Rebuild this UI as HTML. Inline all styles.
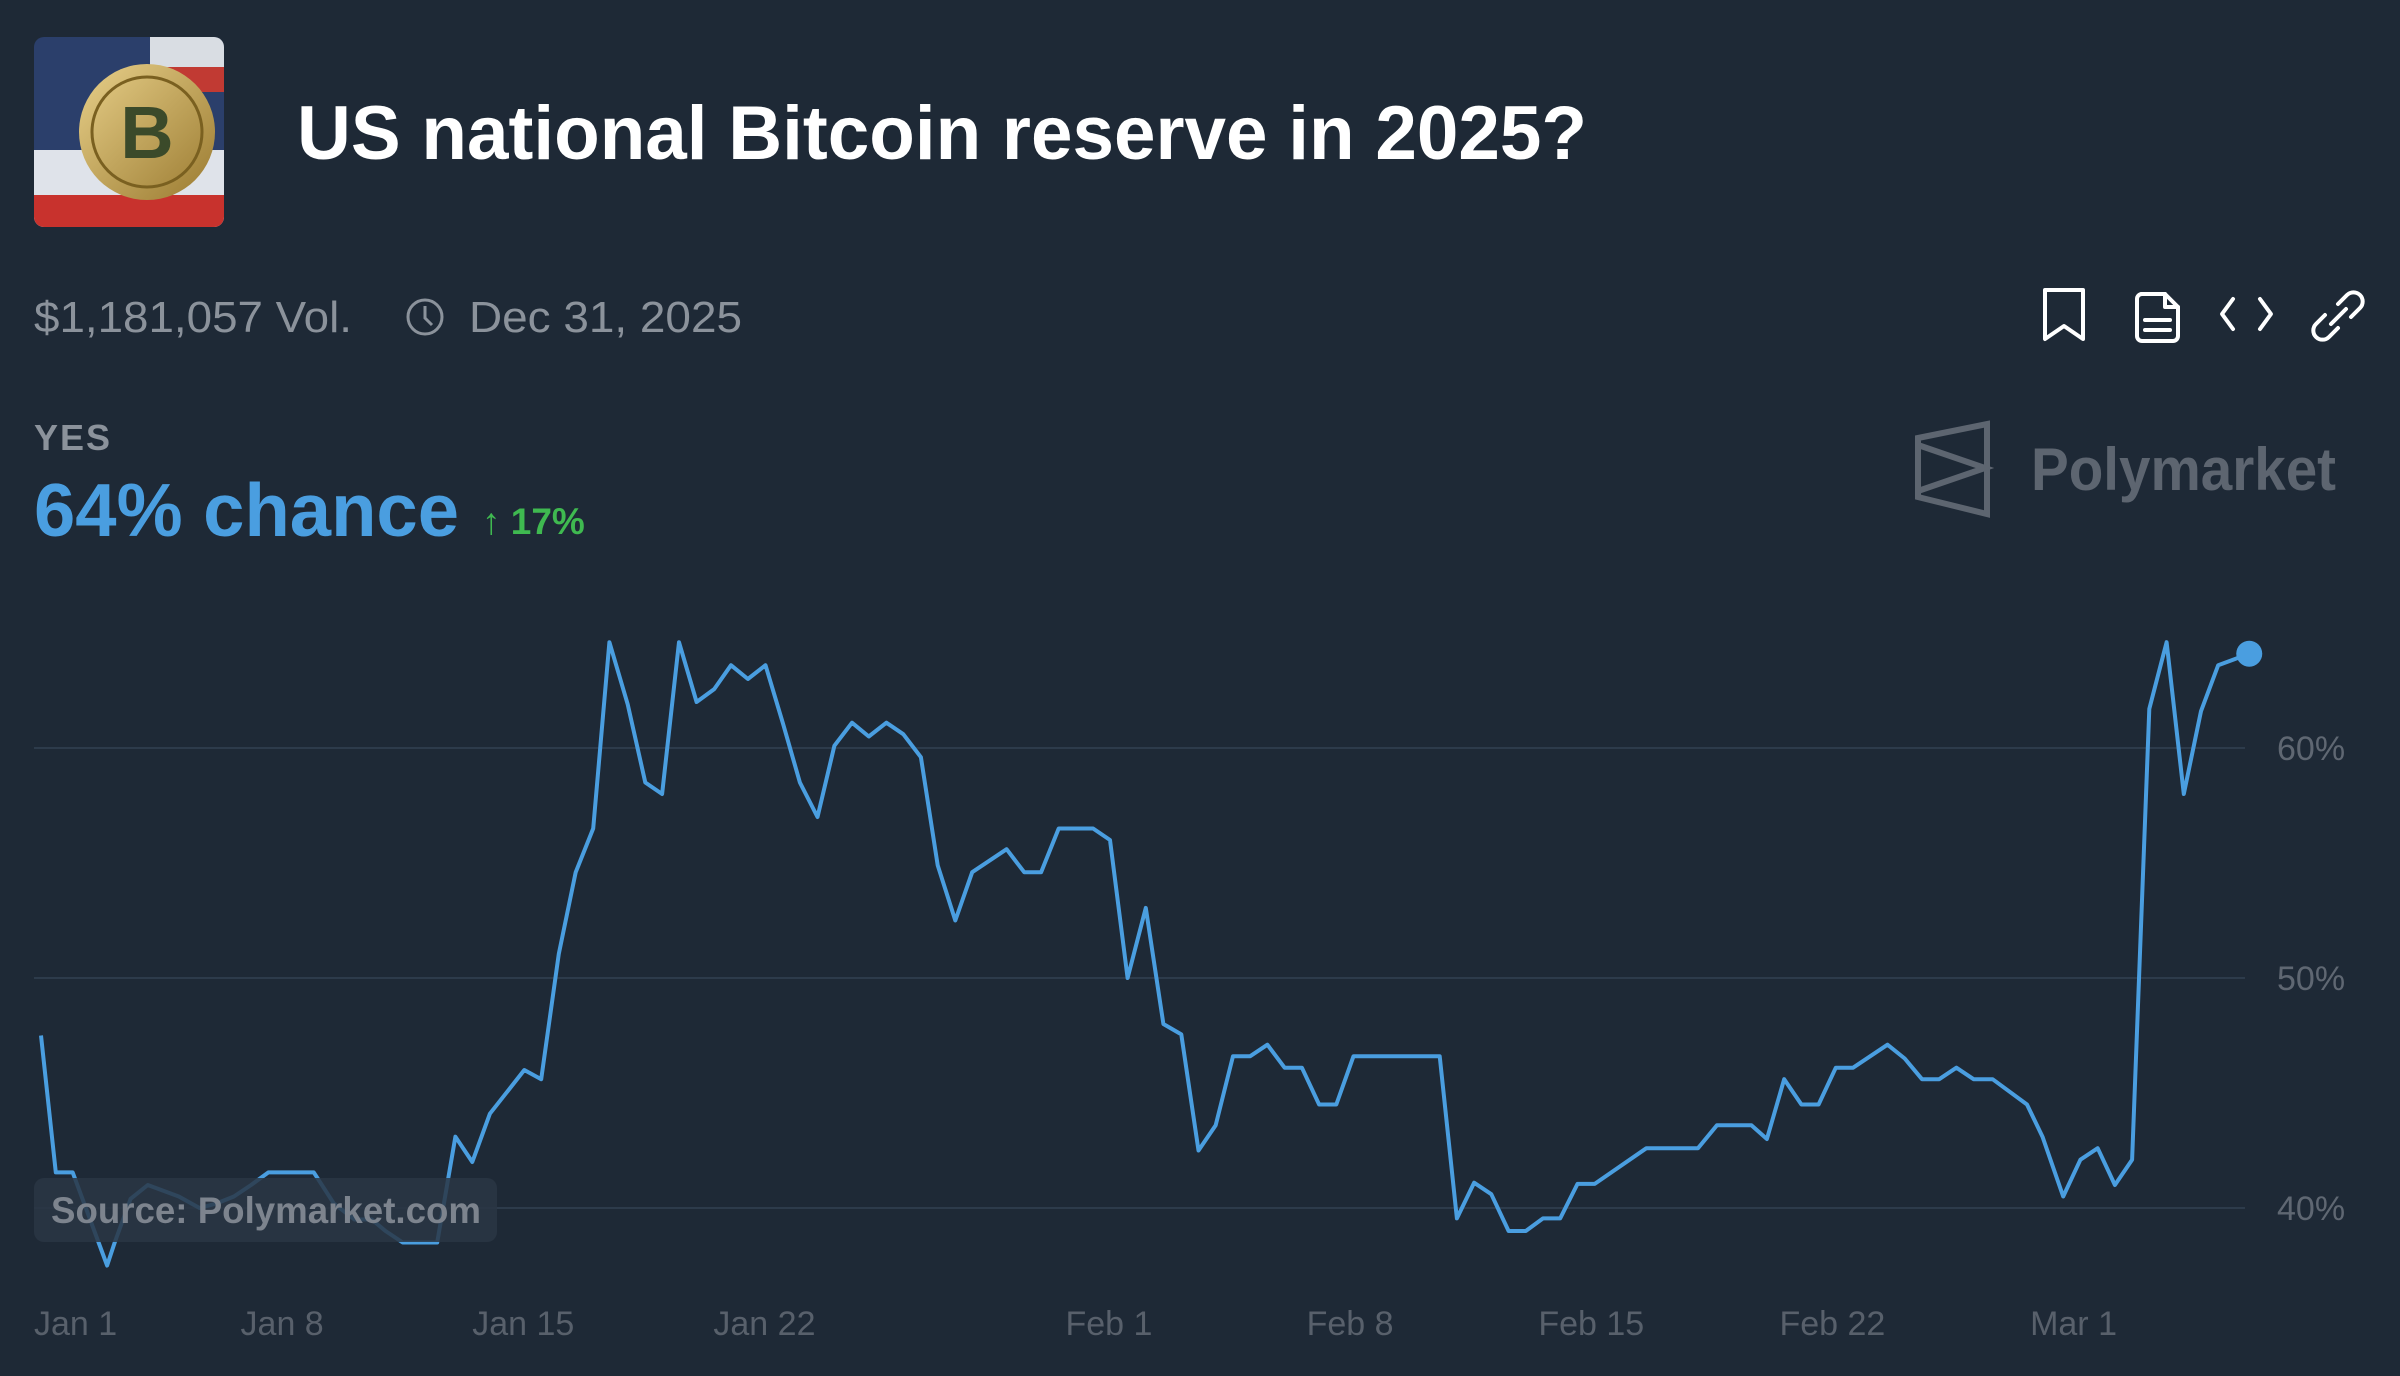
<!DOCTYPE html>
<html><head><meta charset="utf-8"><style>
html,body{margin:0;padding:0;background:#1e2936;}
svg{display:block}
text{font-family:"Liberation Sans",sans-serif}
</style></head><body>
<svg width="2400" height="1376" viewBox="0 0 2400 1376">
<rect x="0" y="0" width="2400" height="1376" fill="#1e2936"/>
<g>
<defs><clipPath id="ic"><rect x="34" y="37" width="190" height="190" rx="10"/></clipPath>
<linearGradient id="coin" x1="0" y1="0" x2="1" y2="1"><stop offset="0" stop-color="#e8d08a"/><stop offset="1" stop-color="#9a7a30"/></linearGradient></defs>
<g clip-path="url(#ic)">
<rect x="34" y="37" width="190" height="190" fill="#2b3f6b"/>
<rect x="34" y="150" width="190" height="77" fill="#dfe3ea"/>
<rect x="34" y="195" width="190" height="32" fill="#c8322d"/>
<rect x="150" y="37" width="74" height="30" fill="#d9dde3"/>
<rect x="150" y="67" width="74" height="25" fill="#c13a33"/>
<circle cx="147" cy="132" r="68" fill="url(#coin)"/>
<circle cx="147" cy="132" r="55" fill="none" stroke="#7a6020" stroke-width="3"/>
<text x="147" y="158" font-size="74" font-weight="bold" text-anchor="middle" fill="#3b4a2a">B</text>
</g></g>
<text x="297" y="159" font-size="76" font-weight="bold" fill="#ffffff" textLength="1290" lengthAdjust="spacingAndGlyphs">US national Bitcoin reserve in 2025?</text>
<text x="34" y="332" font-size="44" fill="#8b929b" textLength="318" lengthAdjust="spacingAndGlyphs">$1,181,057 Vol.</text>
<g fill="none" stroke="#8b929b" stroke-width="3">
<circle cx="425" cy="317" r="17"/><path d="M425 306 V318 L432 325"/></g>
<text x="469" y="332" font-size="44" fill="#8b929b" textLength="273" lengthAdjust="spacingAndGlyphs">Dec 31, 2025</text>
<g fill="none" stroke="#ffffff" stroke-width="4" stroke-linejoin="round" stroke-linecap="round">
<path d="M2045 290 H2083 V339 L2064 326 L2045 339 Z"/>
<g><path d="M2141 294 H2165 L2178 307 V336 a5 5 0 0 1 -5 5 H2142 a5 5 0 0 1 -5 -5 V299 a5 5 0 0 1 5 -5 Z"/><path d="M2165 294 V307 H2178 M2145 320 H2170 M2145 330 H2170"/></g>
<path d="M2233 299 L2222 314 L2233 329 M2260 299 L2271 314 L2260 329"/>
<g><path d="M2338 304 l9 -9 a9 9 0 0 1 13 13 l-9 9"/><path d="M2338 328 l-9 9 a9 9 0 0 1 -13 -13 l9 -9"/><path d="M2331 324 L2346 309"/></g>
</g>
<text x="34" y="450" font-size="36" font-weight="bold" fill="#8b929b" letter-spacing="2">YES</text>
<text x="34" y="536" font-size="75" font-weight="bold" fill="#4a9ee0" textLength="425" lengthAdjust="spacingAndGlyphs">64% chance</text>
<text x="482" y="534" font-size="37" font-weight="bold" fill="#3fb950">↑ 17%</text>
<g>
<path d="M1918 438 L1987 424 V514 L1918 497 Z M1918 445 L1985 468 L1918 491" fill="none" stroke="#5d6570" stroke-width="6" stroke-linejoin="miter"/>
<text x="2031" y="490" font-size="60" font-weight="bold" fill="#5d6570" textLength="305" lengthAdjust="spacingAndGlyphs">Polymarket</text>
</g>
<g id="grid"></g>
<g id="line"></g>
<g>
<rect x="34" y="1178" width="463" height="64" rx="10" fill="#2a3644" fill-opacity="0.85"/>
<text x="51" y="1223" font-size="37" font-weight="bold" fill="#7d848e" textLength="430" lengthAdjust="spacingAndGlyphs">Source: Polymarket.com</text>
</g>
<g id="xaxis"></g>
</svg>
<script>
const days = [0,0.43,0.92,1.92,2.14,2.6,3.1,4.0,4.6,5.1,5.6,6.1,6.6,7.03,7.92,8.5,9.1,9.6,10.0,10.5,11.5,12.03,12.52,13.03,14.03,14.52,15.03,15.52,16.03,16.5,17.03,17.54,18.03,18.52,19.03,19.54,20.03,20.52,21.03,21.54,22.03,22.54,23.03,23.54,24.03,24.54,25.03,25.54,26.03,26.54,27.03,28.03,28.54,29.03,29.54,30.54,31.03,31.54,32.07,32.58,33.1,33.6,34.1,34.6,35.1,35.6,36.1,36.6,37.1,37.6,38.1,40.6,41.1,41.6,42.1,42.6,43.1,43.6,44.1,44.6,45.1,46.6,48.1,48.65,49.65,50.1,50.6,51.1,51.6,52.1,52.6,53.6,54.1,54.6,55.1,55.6,56.1,56.65,57.65,58.1,58.7,59.2,59.7,60.2,60.7,61.2,61.7,62.2,62.7,63.2,64.1];
const values = [47.5,41.55,41.55,37.5,38.5,40.4,41.0,40.5,40.0,40.2,40.5,41.0,41.55,41.55,41.55,40.2,39.5,39.5,39.0,38.5,38.5,43.1,42.0,44.1,46.0,45.6,51.05,54.6,56.5,64.6,61.9,58.5,58.0,64.6,62.0,62.56,63.6,63.0,63.6,61.05,58.5,57.0,60.1,61.1,60.5,61.1,60.6,59.6,54.9,52.5,54.6,55.6,54.6,54.6,56.5,56.5,56.0,50.0,53.05,48.0,47.55,42.5,43.6,46.6,46.6,47.1,46.1,46.1,44.5,44.5,46.6,46.6,39.55,41.1,40.6,39.0,39.0,39.55,39.55,41.05,41.05,42.6,42.6,43.6,43.6,43.0,45.6,44.5,44.5,46.1,46.1,47.1,46.5,45.6,45.6,46.1,45.6,45.6,44.5,43.1,40.5,42.1,42.6,41.0,42.1,61.7,64.6,58.0,61.6,63.6,64.1];
const yTicks = [40,50,60];
const yTickLabels = ["40%","50%","60%"];
const xTickDays = [0,7,14,21,31,38,45,52,59];
const xTickLabels = ["Jan 1","Jan 8","Jan 15","Jan 22","Feb 1","Feb 8","Feb 15","Feb 22","Mar 1"];

const NS = "http://www.w3.org/2000/svg";
const xs = d => 41 + d * 34.45;
const ys = v => 1208 - (v - 40) * 23.0;
const grid = document.getElementById('grid');
yTicks.forEach((t, i) => {
  const l = document.createElementNS(NS, 'line');
  l.setAttribute('x1', 34); l.setAttribute('x2', 2245);
  l.setAttribute('y1', ys(t)); l.setAttribute('y2', ys(t));
  l.setAttribute('stroke', '#2d3b4b'); l.setAttribute('stroke-width', '2');
  
  
  grid.appendChild(l);
  const tx = document.createElementNS(NS, 'text');
  tx.setAttribute('x', 2277); tx.setAttribute('y', ys(t) + 12);
  tx.setAttribute('font-size', '34'); tx.setAttribute('fill', '#5f6772');
  tx.textContent = yTickLabels[i];
  
  
  grid.appendChild(tx);
});
const lg = document.getElementById('line');
const p = document.createElementNS(NS, 'path');
p.setAttribute('d', days.map((d, i) => (i ? 'L' : 'M') + xs(d).toFixed(1) + ' ' + ys(values[i]).toFixed(1)).join(' '));
p.setAttribute('fill', 'none'); p.setAttribute('stroke', '#4a9ee0'); p.setAttribute('stroke-width', '4');
p.setAttribute('stroke-linejoin', 'round');


lg.appendChild(p);
const dot = document.createElementNS(NS, 'circle');
dot.setAttribute('cx', xs(days[days.length - 1])); dot.setAttribute('cy', ys(values[values.length - 1]));
dot.setAttribute('r', '13'); dot.setAttribute('fill', '#4a9ee0');


lg.appendChild(dot);
const xa = document.getElementById('xaxis');
xTickDays.forEach((d, i) => {
  const tx = document.createElementNS(NS, 'text');
  if (i === 0) { tx.setAttribute('x', 34); }
  else { tx.setAttribute('x', xs(d)); tx.setAttribute('text-anchor', 'middle'); }
  tx.setAttribute('y', 1335); tx.setAttribute('font-size', '34'); tx.setAttribute('fill', '#58606b');
  tx.textContent = xTickLabels[i];
  
  
  xa.appendChild(tx);
});
</script>
</body></html>
